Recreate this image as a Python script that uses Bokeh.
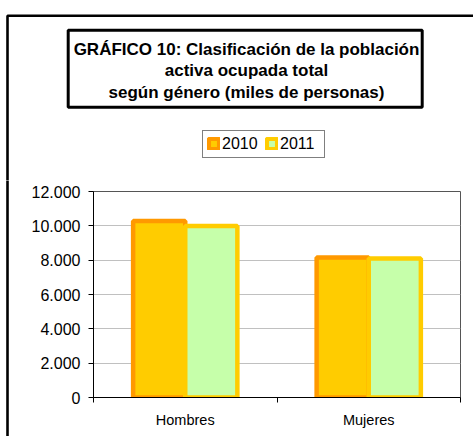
from bokeh.plotting import figure
from bokeh.models import (Legend, LegendItem, FixedTicker, ColumnDataSource, Range1d)
from bokeh.layouts import column, row
from bokeh.transform import dodge
from bokeh.core.properties import value
from bokeh.embed import file_html
from bokeh.resources import INLINE

categories = ["Hombres", "Mujeres"]
years = ["2010", "2011"]
values_2010 = [10280, 8160]
values_2011 = [9990, 8090]
y_ticks = [0, 2000, 4000, 6000, 8000, 10000, 12000]
y_tick_labels = ["0", "2.000", "4.000", "6.000", "8.000", "10.000", "12.000"]
title_lines = ["GRÁFICO 10: Clasificación de la población",
               "activa ocupada total",
               "según género (miles de personas)"]

FONT = "Liberation Sans"
C2010_FILL, C2010_LINE = "#FFCC00", "#FF9900"
C2011_FILL, C2011_LINE = "#C6FFAA", "#FFCC00"
BAR_LW = 4.5

HEAD_H = 180
TOTAL_W, TOTAL_H = 473, 436
STRIP_W = 9
BX, BY = 7, 15.3  # outer chart border (left x, top y) in page pixels


def blank(width, height, xr, yr):
    f = figure(width=width, height=height, x_range=Range1d(*xr), y_range=Range1d(*yr),
               x_axis_type=None, y_axis_type=None, output_backend="svg",
               toolbar_location=None, min_border=0)
    f.outline_line_color = None
    f.xgrid.visible = False
    f.ygrid.visible = False
    f.background_fill_color = "white"
    f.border_fill_color = "white"
    return f


# ---------------- header: outer border, title box, legend ----------------
head = blank(TOTAL_W, HEAD_H, (0, TOTAL_W), (HEAD_H, 0))
head.line(x=[BX, BX, TOTAL_W + 10], y=[HEAD_H + 5, BY, BY], line_color="black", line_width=2.6)

box_cx, box_cy, box_w, box_h = 244.7, 68.3, 354, 77
head.rect(x=[box_cx], y=[box_cy], width=box_w, height=box_h, fill_color="white",
          line_color="black", line_width=3)
line_step = 21.4
base0 = 49.0
head.text(x=[246.0] * len(title_lines), y=[base0 + i * line_step for i in range(len(title_lines))],
          text=title_lines, text_align="center", text_baseline="alphabetic",
          text_font=value(FONT), text_font_style="bold", text_font_size="17px",
          text_color="black")

# legend swatch renderers: tiny, hidden underneath the legend's own background
lg_left, lg_bottom = 202, 157.7
d1 = head.vbar(x=[lg_left + 60], top=[lg_bottom - 12], bottom=[lg_bottom - 13], width=0.1,
               fill_color=C2010_FILL, line_color=C2010_LINE, line_width=BAR_LW)
d2 = head.vbar(x=[lg_left + 60], top=[lg_bottom - 12], bottom=[lg_bottom - 13], width=0.1,
               fill_color=C2011_FILL, line_color=C2011_LINE, line_width=BAR_LW)
legend = Legend(items=[LegendItem(label=years[0], renderers=[d1]),
                       LegendItem(label=years[1], renderers=[d2])],
                location=(lg_left, HEAD_H - lg_bottom), orientation="horizontal",
                border_line_color="black", border_line_width=1,
                background_fill_color="white", background_fill_alpha=1,
                padding=4, spacing=3, glyph_width=13, glyph_height=13,
                label_standoff=2, label_height=18, label_width=40,
                label_text_font=FONT, label_text_font_size="16px",
                label_text_color="black", margin=0)
head.add_layout(legend, "center")

# ---------------- left strip: continuation of the outer border ----------------
body_h = TOTAL_H - HEAD_H
strip = blank(STRIP_W, body_h, (0, STRIP_W), (body_h, 0))
strip.line(x=[BX, BX], y=[-5, body_h + 5], line_color="black", line_width=2.6)

# ---------------- chart ----------------
xpos = [i + 0.5 for i in range(len(categories))]
src = ColumnDataSource(dict(x=xpos, cat=categories, v2010=values_2010, v2011=values_2011))

p = figure(width=TOTAL_W - STRIP_W, height=body_h, x_range=Range1d(0, len(categories)),
           y_range=Range1d(0, 12000), output_backend="svg", toolbar_location=None,
           min_border_left=84, min_border_right=13, min_border_top=11,
           min_border_bottom=39)
p.background_fill_color = "white"
p.border_fill_color = "white"
p.outline_line_color = "#555555"
p.outline_line_width = 1

r1 = p.vbar(x=dodge("x", -0.142), top="v2010", width=0.284, source=src,
            fill_color=C2010_FILL, line_color=C2010_LINE, line_width=BAR_LW)
r2 = p.vbar(x=dodge("x", 0.142), top="v2011", width=0.284, source=src,
            fill_color=C2011_FILL, line_color=C2011_LINE, line_width=BAR_LW)

p.xaxis.ticker = FixedTicker(ticks=xpos, minor_ticks=list(range(len(categories) + 1)))
p.xaxis.major_label_overrides = {x: c for x, c in zip(xpos, categories)}
p.xaxis.major_tick_line_color = None
p.xaxis.major_tick_out = 5
p.xaxis.major_tick_in = 0
p.xaxis.minor_tick_in = 0
p.xaxis.minor_tick_out = 5
p.xaxis.minor_tick_line_color = "black"
p.xaxis.axis_line_color = "black"
p.xaxis.major_label_standoff = 9
p.xaxis.major_label_text_font = FONT
p.xaxis.major_label_text_font_size = "14.5px"
p.xaxis.major_label_text_color = "black"
p.xgrid.visible = False

p.yaxis.ticker = FixedTicker(ticks=y_ticks)
p.yaxis.major_label_overrides = dict(zip(y_ticks, y_tick_labels))
p.yaxis.minor_tick_line_color = None
p.yaxis.major_tick_in = 0
p.yaxis.major_tick_out = 5
p.yaxis.major_tick_line_color = "black"
p.yaxis.axis_line_color = "black"
p.yaxis.major_label_standoff = 8
p.yaxis.major_label_text_font = FONT
p.yaxis.major_label_text_font_size = "16px"
p.yaxis.major_label_text_color = "black"
p.ygrid.grid_line_color = "#C0C0C0"

layout = column(head, row(column(strip), p))
open("out.html", "w").write(file_html(layout, INLINE))
